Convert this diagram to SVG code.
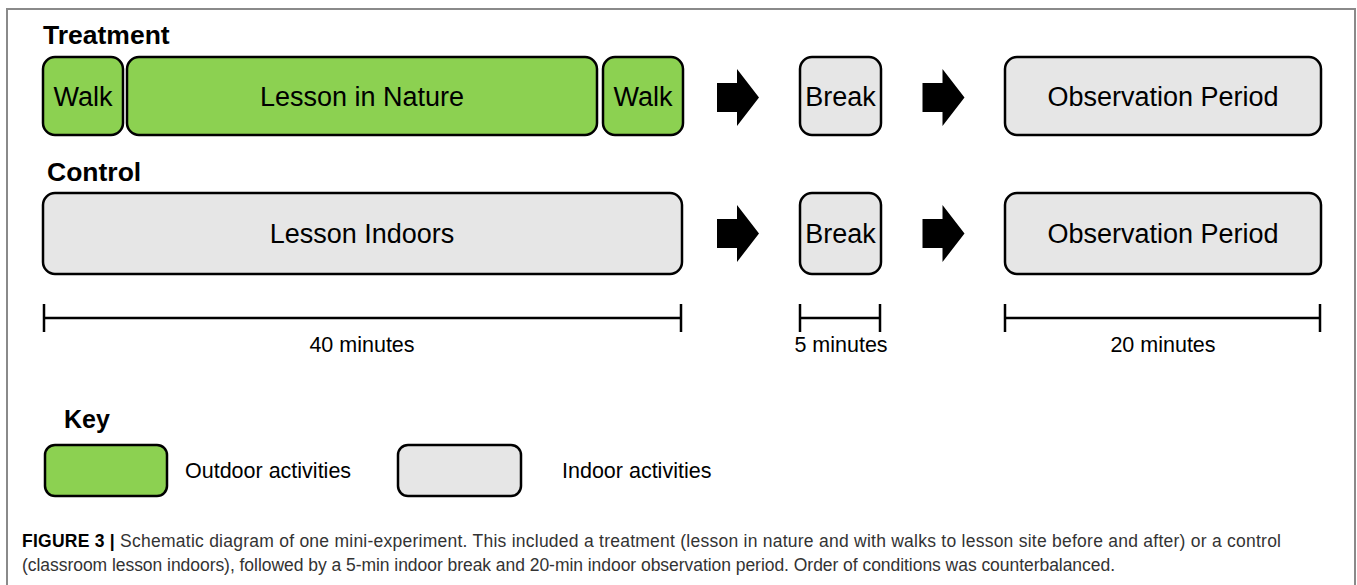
<svg xmlns="http://www.w3.org/2000/svg" width="1357" height="585" viewBox="0 0 1357 585">
<style>
.box{stroke:#000;stroke-width:2.5}
.g{fill:#8cd151}
.i{fill:#e6e6e6}
.t{font-family:"Liberation Sans",Arial,sans-serif;font-size:27px;fill:#000;text-anchor:middle}
.h{font-family:"Liberation Sans",Arial,sans-serif;font-size:26.5px;font-weight:bold;fill:#000}
.m{font-family:"Liberation Sans",Arial,sans-serif;font-size:21.5px;fill:#000;text-anchor:middle}
.k{font-family:"Liberation Sans",Arial,sans-serif;font-size:21.5px;fill:#000}
.bar{stroke:#000;stroke-width:2.5;fill:none}
.cap{font-family:"Liberation Sans",Arial,sans-serif;font-size:17.5px;fill:#333}
</style>
<defs>
<path id="arr" d="M0,-14.5 H20 V-28.5 L42,0 L20,28.5 V14.5 H0 Z" fill="#000"/>
</defs>
<rect width="1357" height="585" fill="#fff"/>
<path d="M7,585 V9 H1355 V585" fill="none" stroke="#8a8a8a" stroke-width="2"/>

<text class="h" x="43" y="44">Treatment</text>
<text class="h" x="47" y="181">Control</text>

<g id="walk1"><rect class="box g" x="43" y="57" width="80" height="78" rx="12"/><text class="t" x="83" y="106">Walk</text></g>
<g id="lesson-nature"><rect class="box g" x="127" y="57" width="470" height="78" rx="12"/><text class="t" x="362" y="106">Lesson in Nature</text></g>
<g id="walk2"><rect class="box g" x="603" y="57" width="80" height="78" rx="12"/><text class="t" x="643" y="106">Walk</text></g>
<g id="break1"><rect class="box i" x="800" y="57" width="81" height="78" rx="12"/><text class="t" x="840.5" y="106">Break</text></g>
<g id="obs1"><rect class="box i" x="1005" y="57" width="316" height="78" rx="12"/><text class="t" x="1163" y="106">Observation Period</text></g>

<g id="lesson-indoors"><rect class="box i" x="43" y="193" width="639" height="81" rx="12"/><text class="t" x="362" y="243">Lesson Indoors</text></g>
<g id="break2"><rect class="box i" x="800" y="193" width="81" height="81" rx="12"/><text class="t" x="840.5" y="243">Break</text></g>
<g id="obs2"><rect class="box i" x="1005" y="193" width="316" height="81" rx="12"/><text class="t" x="1163" y="243">Observation Period</text></g>

<g id="connectors">
<use href="#arr" x="717" y="97.5"/>
<use href="#arr" x="922.5" y="97.5"/>
<use href="#arr" x="717" y="233.5"/>
<use href="#arr" x="922.5" y="233.5"/>
</g>

<g id="timeline">
<path class="bar" d="M44,304 V332 M44,318 H681 M681,304 V332"/>
<text class="m" x="362" y="352">40 minutes</text>
<path class="bar" d="M800,304 V332 M800,318 H880 M880,304 V332"/>
<text class="m" x="841" y="352">5 minutes</text>
<path class="bar" d="M1005,304 V332 M1005,318 H1320 M1320,304 V332"/>
<text class="m" x="1163" y="352">20 minutes</text>
</g>

<g id="key">
<text class="h" x="64" y="428" style="font-size:25px">Key</text>
<rect class="box g" x="45" y="445" width="122" height="51" rx="10"/>
<text class="k" x="185" y="478">Outdoor activities</text>
<rect class="box i" x="398" y="445" width="123" height="51" rx="10"/>
<text class="k" x="562" y="478">Indoor activities</text>
</g>

<g id="caption">
<text class="cap" x="22" y="547" textLength="1259" lengthAdjust="spacing"><tspan font-weight="bold" fill="#000">FIGURE 3 |</tspan> Schematic diagram of one mini-experiment. This included a treatment (lesson in nature and with walks to lesson site before and after) or a control</text>
<text class="cap" x="22" y="571" textLength="1093" lengthAdjust="spacing">(classroom lesson indoors), followed by a 5-min indoor break and 20-min indoor observation period. Order of conditions was counterbalanced.</text>
</g>
</svg>
